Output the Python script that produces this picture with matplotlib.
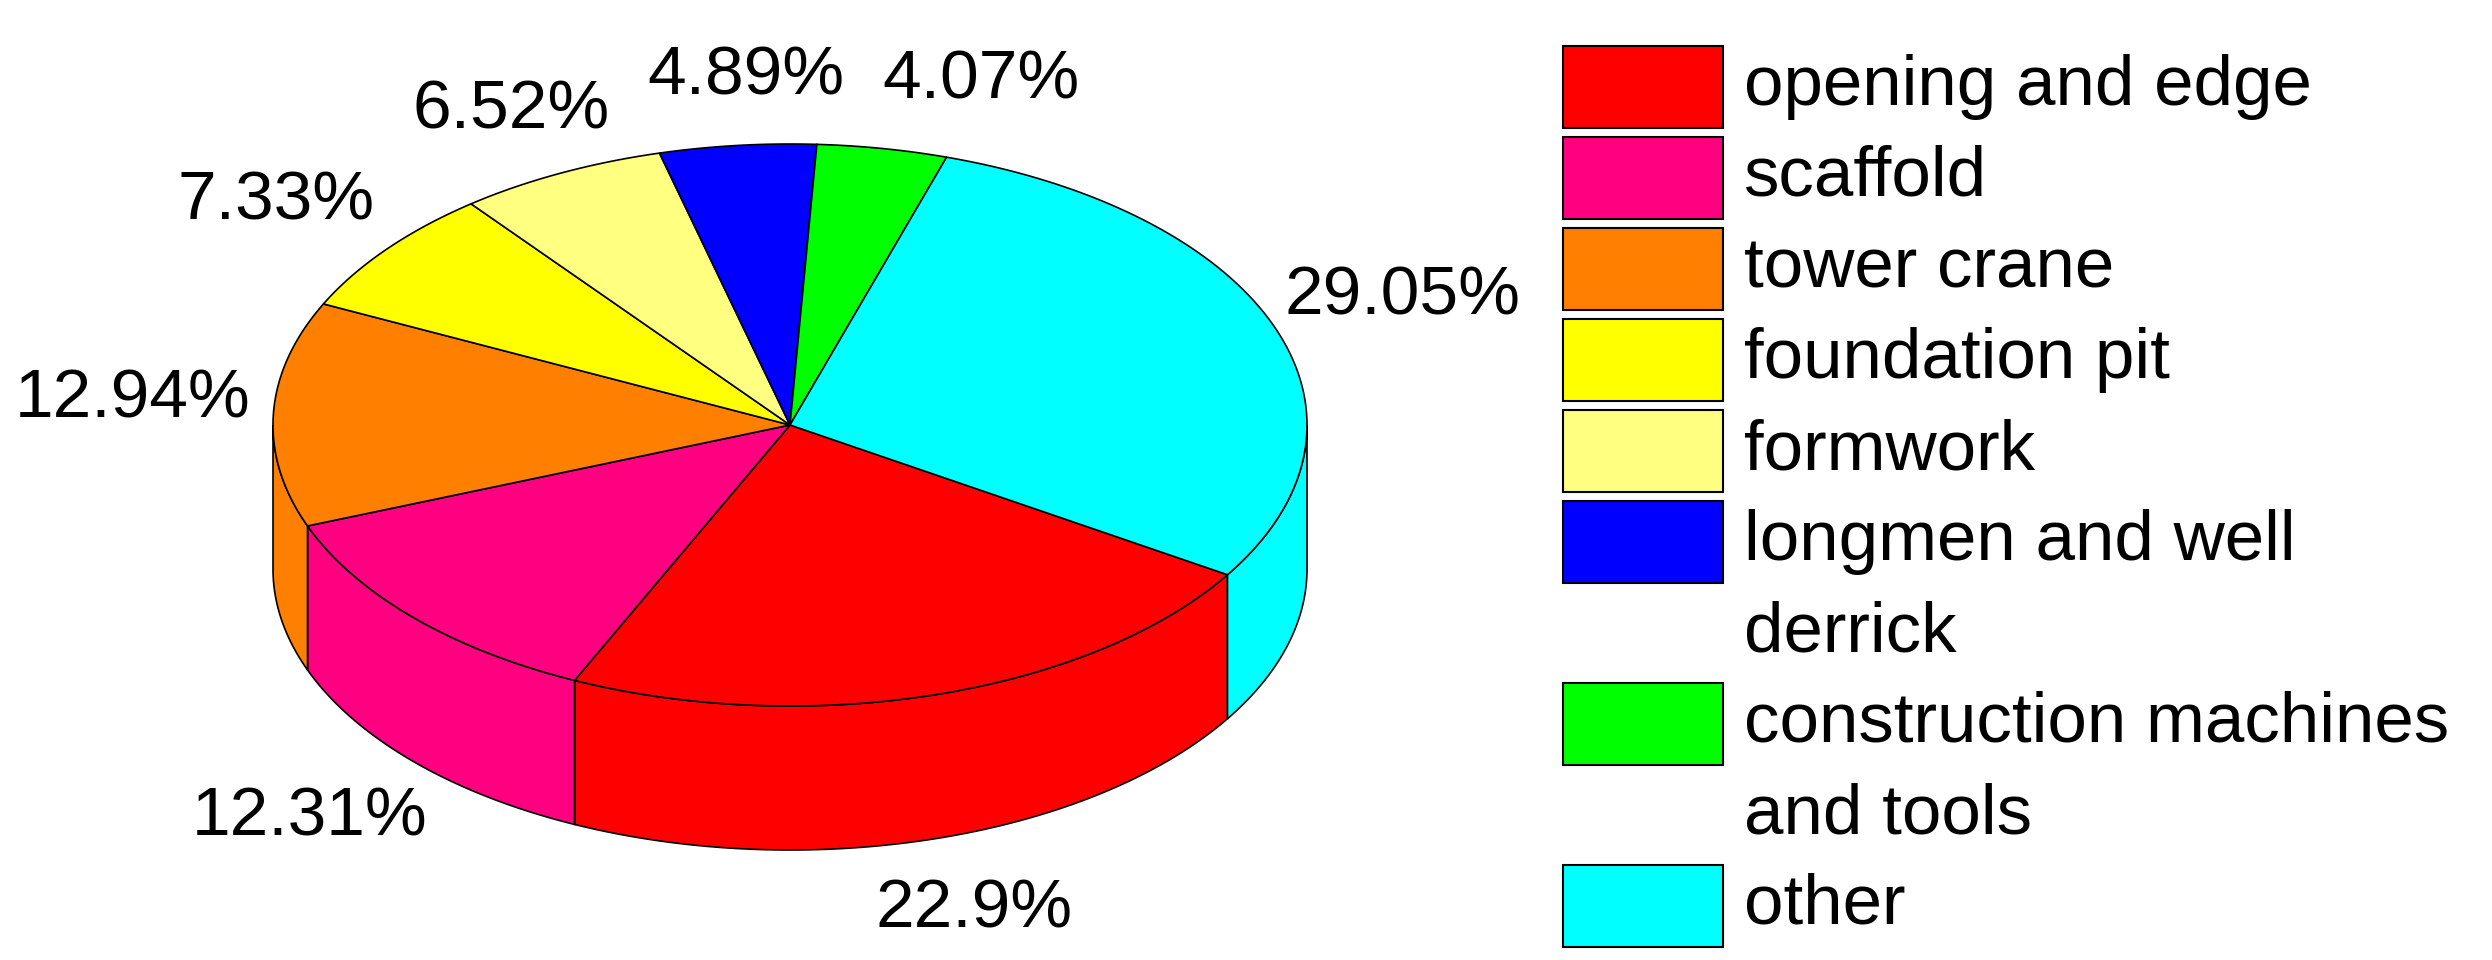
import numpy as np
import matplotlib.pyplot as plt
from matplotlib.patches import Polygon, Rectangle

categories = ['opening and edge', 'scaffold', 'tower crane', 'foundation pit', 'formwork',
              'longmen and well\nderrick', 'construction machines\nand tools', 'other']
shares = [22.9, 12.31, 12.94, 7.33, 6.52, 4.89, 4.07, 29.05]
pct_labels = ['22.9%', '12.31%', '12.94%', '7.33%', '6.52%', '4.89%', '4.07%', '29.05%']
colors = ['#ff0000', '#ff0080', '#ff8000', '#ffff00', '#ffff80', '#0000ff', '#00ff00', '#00ffff']

plt.rcParams['font.family'] = ['Liberation Sans', 'DejaVu Sans']

W, H = 2492, 960
fig = plt.figure(figsize=(W / 100, H / 100), dpi=100)
ax = fig.add_axes([0, 0, 1, 1])
ax.set_xlim(0, W)
ax.set_ylim(H, 0)
ax.axis('off')

# pie geometry (pixel units of the picture)
cx, cy = 790, 425
a, b = 517, 281
depth = 144
start = -32.2  # degrees, slices go clockwise

def pt(theta, drop=0):
    t = np.radians(theta)
    return cx + a * np.cos(t), cy - b * np.sin(t) + drop

frac = np.array(shares) / sum(shares)
cum = np.concatenate([[0], np.cumsum(frac)])
hi_ang = start - 360 * cum[:-1]
lo_ang = start - 360 * cum[1:]

# side walls, front half only
for lo, hi, col in zip(lo_ang, hi_ang, colors):
    for k in range(-2, 2):
        s0 = max(lo, -180 + 360 * k)
        s1 = min(hi, 360 * k)
        if s1 <= s0:
            continue
        th = np.linspace(s0, s1, 120)
        top = [pt(t) for t in th]
        bot = [pt(t, depth) for t in th[::-1]]
        ax.add_patch(Polygon(top + bot, closed=True, facecolor=col,
                             edgecolor='black', linewidth=1.2, zorder=1))

# top faces
for lo, hi, col in zip(lo_ang, hi_ang, colors):
    th = np.linspace(lo, hi, 200)
    verts = [(cx, cy)] + [pt(t) for t in th]
    ax.add_patch(Polygon(verts, closed=True, facecolor=col,
                         edgecolor='black', linewidth=1.2, zorder=2))

# percentage labels
texts, upper = [], []
for lo, hi, lab in zip(lo_ang, hi_ang, pct_labels):
    m = np.radians((lo + hi) / 2)
    x = cx - 3 + 1.267 * a * np.cos(m)
    y = cy - 12 - 1.203 * b * np.sin(m)
    if np.sin(m) < 0:
        y += 1.2 * depth
    texts.append(ax.text(x, y, lab, ha='center', va='center', fontsize=50,
                         color='black', zorder=3))
    upper.append(np.sin(m) > 0.5)

# push apart neighbouring labels on the top edge
fig.canvas.draw()
rend = fig.canvas.get_renderer()
min_gap = 38
for i in range(len(texts) - 1):
    if not (upper[i] and upper[i + 1]):
        continue
    b1 = texts[i].get_window_extent(rend)
    b2 = texts[i + 1].get_window_extent(rend)
    if b2.x0 - b1.x1 < min_gap:
        x, y = texts[i + 1].get_position()
        texts[i + 1].set_position((x + min_gap - (b2.x0 - b1.x1), y))

# legend
row_y0, row_step = 87, 91
box_x, box_w, box_h = 1563, 160, 82
text_x = 1744
row = 0
for name, col in zip(categories, colors):
    yc = row_y0 + row * row_step
    ax.add_patch(Rectangle((box_x, yc - box_h / 2), box_w, box_h, facecolor=col,
                           edgecolor='black', linewidth=1.5, zorder=2))
    for line in name.split('\n'):
        ax.text(text_x, row_y0 + row * row_step, line, ha='left', va='center',
                fontsize=51, color='black')
        row += 1

fig.savefig('out.png', dpi=100)
